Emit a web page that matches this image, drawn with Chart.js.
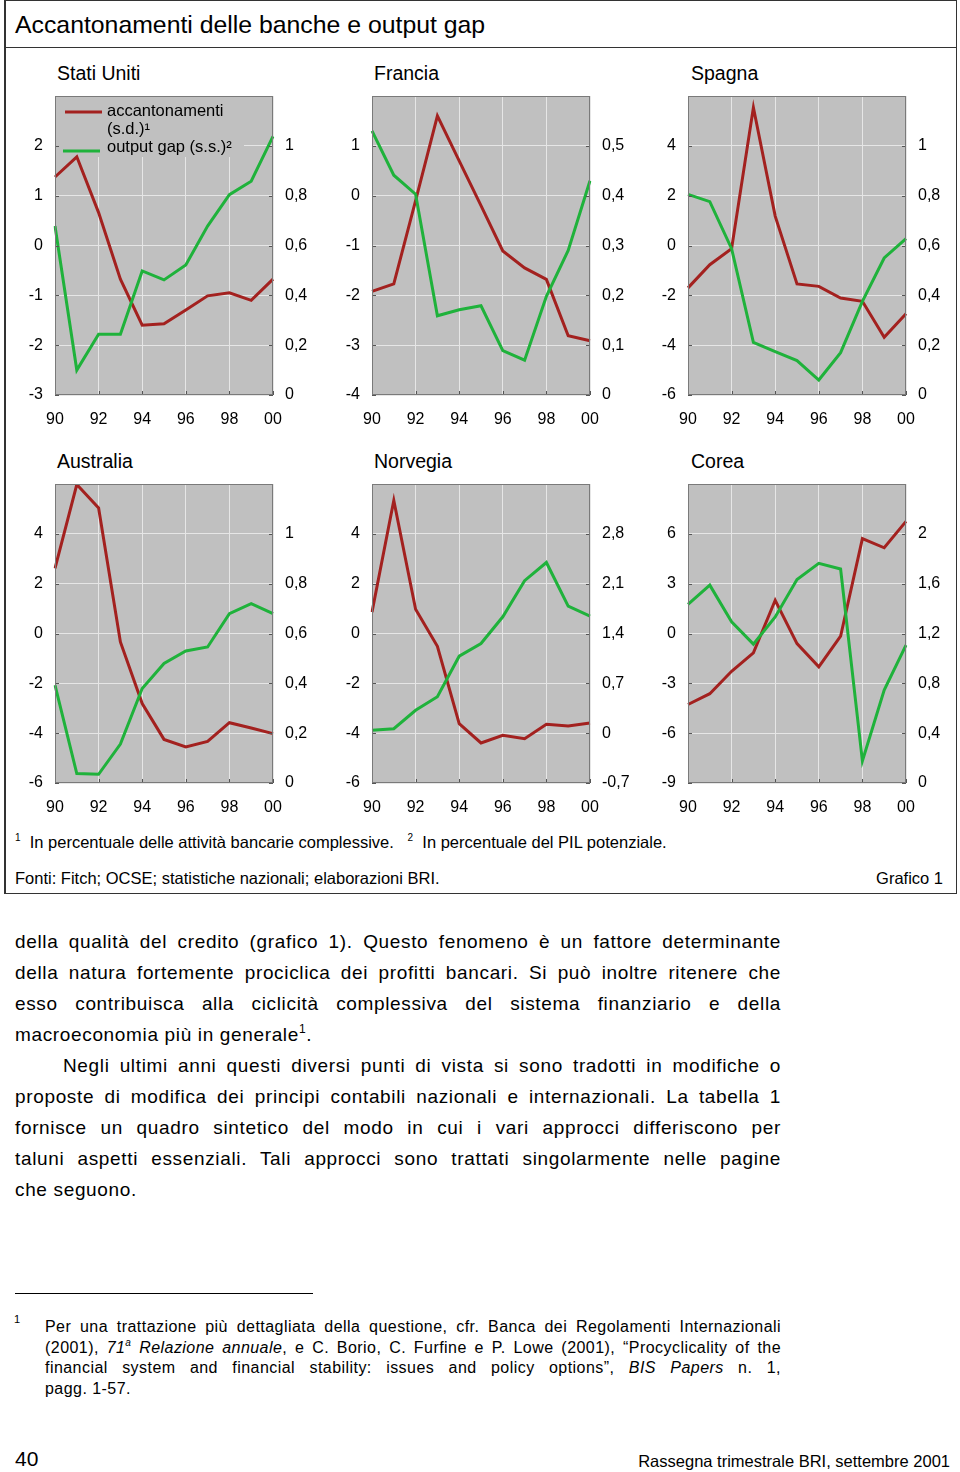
<!DOCTYPE html>
<html>
<head>
<meta charset="utf-8">
<script src="https://cdn.jsdelivr.net/npm/chart.js@4.4.1/dist/chart.umd.min.js"></script>
<style>
body{margin:0;width:960px;height:1472px;position:relative;overflow:hidden;background:#fff;color:#000;font-family:"Liberation Sans",Arial,sans-serif}
.box{position:absolute;left:4px;top:0;width:953px;height:894px;box-sizing:border-box;border:1px solid #333;border-left-width:2px}
.sep{position:absolute;left:4px;top:47px;width:953px;border-top:1px solid #333}
.title{position:absolute;left:15px;top:10px;font-size:24.8px;line-height:30px}
.ptitle{position:absolute;font-size:19.5px;line-height:22px}
canvas{position:absolute}
.note{position:absolute;font-size:16.5px;line-height:18px;white-space:nowrap}
.note sup{font-size:10px;vertical-align:7px;line-height:0}
.body{position:absolute;left:15px;top:926px;width:766px;font-size:19px;line-height:31px;letter-spacing:0.65px}
.ln{text-align:justify;text-align-last:justify}
.lst{text-align:left}
.body sup{font-size:12px;line-height:0;vertical-align:8px}
.rule{position:absolute;left:15px;top:1293px;width:298px;border-top:1px solid #000}
.fn{position:absolute;left:45px;top:1317px;width:736px;font-size:16px;line-height:20.5px;letter-spacing:0.45px}
.fn sup{font-size:10px;line-height:0;vertical-align:7px}
.fnnum{position:absolute;left:14px;top:1313px;font-size:11px}
.foot{position:absolute;white-space:nowrap}
</style>
</head>
<body>
<div class="box"></div>
<div class="sep"></div>
<div class="title">Accantonamenti delle banche e output gap</div>

<div class="ptitle" style="left:57px;top:62px">Stati Uniti</div>
<div class="ptitle" style="left:374px;top:62px">Francia</div>
<div class="ptitle" style="left:691px;top:62px">Spagna</div>
<div class="ptitle" style="left:57px;top:450px">Australia</div>
<div class="ptitle" style="left:374px;top:450px">Norvegia</div>
<div class="ptitle" style="left:691px;top:450px">Corea</div>

<canvas id="usa" width="313" height="336" style="left:10px;top:94px"></canvas>
<canvas id="fra" width="313" height="336" style="left:327px;top:94px"></canvas>
<canvas id="esp" width="313" height="336" style="left:643px;top:94px"></canvas>
<canvas id="aus" width="313" height="336" style="left:10px;top:482px"></canvas>
<canvas id="nor" width="313" height="336" style="left:327px;top:482px"></canvas>
<canvas id="kor" width="313" height="336" style="left:643px;top:482px"></canvas>

<div class="note" style="left:15px;top:833px"><sup>1</sup>&nbsp; In percentuale delle attività bancarie complessive. &nbsp;&nbsp;<sup>2</sup>&nbsp; In percentuale del PIL potenziale.</div>
<div class="note" style="left:15px;top:869px">Fonti: Fitch; OCSE; statistiche nazionali; elaborazioni BRI.</div>
<div class="note" style="right:17px;top:869px">Grafico 1</div>

<div class="body">
<div class="ln">della qualità del credito (grafico 1). Questo fenomeno è un fattore determinante</div>
<div class="ln">della natura fortemente prociclica dei profitti bancari. Si può inoltre ritenere che</div>
<div class="ln">esso contribuisca alla ciclicità complessiva del sistema finanziario e della</div>
<div class="lst">macroeconomia più in generale<sup>1</sup>.</div>
<div class="ln" style="padding-left:48px">Negli ultimi anni questi diversi punti di vista si sono tradotti in modifiche o</div>
<div class="ln">proposte di modifica dei principi contabili nazionali e internazionali. La tabella 1</div>
<div class="ln">fornisce un quadro sintetico del modo in cui i vari approcci differiscono per</div>
<div class="ln">taluni aspetti essenziali. Tali approcci sono trattati singolarmente nelle pagine</div>
<div class="lst">che seguono.</div>
</div>

<div class="rule"></div>
<div class="fnnum">1</div>
<div class="fn">
<div class="ln">Per una trattazione più dettagliata della questione, cfr. Banca dei Regolamenti Internazionali</div>
<div class="ln">(2001), <i>71<sup>a</sup> Relazione annuale</i>, e C. Borio, C. Furfine e P. Lowe (2001), “Procyclicality of the</div>
<div class="ln">financial system and financial stability: issues and policy options”, <i>BIS Papers</i> n. 1,</div>
<div class="lst">pagg. 1-57.</div>
</div>

<div class="foot" style="left:15px;top:1447px;font-size:21px">40</div>
<div class="foot" style="right:10px;top:1452px;font-size:16.5px">Rassegna trimestrale BRI, settembre 2001</div>

<script>
const years = ['90', '91', '92', '93', '94', '95', '96', '97', '98', '99', '00'];

// output gap (scala sinistra)
const usaGap = [0.39, -2.5, -1.78, -1.78, -0.51, -0.69, -0.39, 0.39, 1.02, 1.29, 2.19];
const fraGap = [1.3, 0.41, 0.03, -2.41, -2.29, -2.21, -3.11, -3.3, -2.02, -1.1, 0.3];
const espGap = [2.05, 1.76, -0.13, -3.89, -4.26, -4.62, -5.4, -4.3, -2.24, -0.5, 0.28];
const ausGap = [-2.07, -5.62, -5.65, -4.44, -2.21, -1.2, -0.7, -0.54, 0.8, 1.2, 0.8];
const norGap = [-3.88, -3.82, -3.08, -2.54, -0.91, -0.4, 0.67, 2.12, 2.85, 1.1, 0.7];
const korGap = [1.75, 2.91, 0.7, -0.64, 1.0, 3.25, 4.22, 3.88, -7.67, -3.41, -0.7];

// accantonamenti (scala destra)
const usaProv = [0.875, 0.956, 0.732, 0.465, 0.28, 0.286, 0.341, 0.398, 0.41, 0.38, 0.465];
const fraProv = [0.208, 0.223, 0.39, 0.56, 0.47, 0.38, 0.289, 0.255, 0.232, 0.119, 0.109];
const espProv = [0.43, 0.523, 0.587, 1.154, 0.718, 0.446, 0.436, 0.389, 0.376, 0.232, 0.326];
const ausProv = [0.861, 1.198, 1.104, 0.566, 0.319, 0.175, 0.145, 0.167, 0.242, 0.221, 0.198];
const norProv = [1.70, 3.27, 1.74, 1.22, 0.134, -0.138, -0.03, -0.077, 0.125, 0.10, 0.143];
const korProv = [0.63, 0.717, 0.897, 1.044, 1.467, 1.119, 0.932, 1.178, 1.962, 1.888, 2.10];

// axis ranges [min, max, step]
const usaLeft = [-3, 3, 1], usaRight = [0, 1.2, 0.2];
const fraLeft = [-4, 2, 1], fraRight = [0, 0.6, 0.1];
const espLeft = [-6, 6, 2], espRight = [0, 1.2, 0.2];
const ausLeft = [-6, 6, 2], ausRight = [0, 1.2, 0.2];
const norLeft = [-6, 6, 2], norRight = [-0.7, 3.5, 0.7];
const korLeft = [-9, 9, 3], korRight = [0, 2.4, 0.4];

const provLegend = ['accantonamenti', '(s.d.)¹'];
const gapLegend = ['output gap (s.s.)²'];

const RED = '#a3211f';
const GREEN = '#1fb23b';
const FONT = '"Liberation Sans", Arial, sans-serif';

function fmt(v, max) {
    if (Math.abs(v - max) < 1e-6) return '';
    if (Math.abs(v - Math.round(v)) < 1e-6) return String(Math.round(v));
    return v.toFixed(1).replace('.', ',');
}

const frame = {
    id: 'frame',
    beforeDraw(chart) {
        const a = chart.chartArea, c = chart.ctx;
        c.save();
        c.fillStyle = '#c0c0c0';
        c.fillRect(a.left, a.top, a.width, a.height);
        c.restore();
    },
    beforeDatasetsDraw(chart, args, opts) {
        if (!opts.legend) return;
        const a = chart.chartArea, c = chart.ctx;
        c.save();
        c.fillStyle = '#c0c0c0';
        c.fillRect(a.left + 1, a.top + 1, 188, 60);
        c.lineWidth = 3;
        c.strokeStyle = RED;
        c.beginPath(); c.moveTo(a.left + 10, a.top + 16); c.lineTo(a.left + 47, a.top + 16); c.stroke();
        c.strokeStyle = GREEN;
        c.beginPath(); c.moveTo(a.left + 8, a.top + 55); c.lineTo(a.left + 45, a.top + 55); c.stroke();
        c.fillStyle = '#000';
        c.font = '16.5px ' + FONT;
        c.textBaseline = 'middle';
        c.fillText(provLegend[0], a.left + 52, a.top + 15);
        c.fillText(provLegend[1], a.left + 52, a.top + 33);
        c.fillText(gapLegend[0], a.left + 52, a.top + 51);
        c.restore();
    },
    afterDatasetsDraw(chart) {
        const a = chart.chartArea, c = chart.ctx;
        c.save();
        c.strokeStyle = '#555';
        c.lineWidth = 1;
        const yl = chart.scales.y, yr = chart.scales.y1, x = chart.scales.x;
        c.beginPath();
        yl.ticks.forEach((t, i) => {
            const p = Math.round(yl.getPixelForTick(i)) + 0.5;
            c.moveTo(a.left, p); c.lineTo(a.left + 4, p);
        });
        yr.ticks.forEach((t, i) => {
            const p = Math.round(yr.getPixelForTick(i)) + 0.5;
            c.moveTo(a.right - 4, p); c.lineTo(a.right, p);
        });
        x.ticks.forEach((t, i) => {
            if (i % 2) return;
            const p = Math.round(x.getPixelForTick(i)) + 0.5;
            c.moveTo(p, a.bottom - 4); c.lineTo(p, a.bottom);
        });
        c.stroke();
        c.strokeStyle = '#7a7a7a';
        c.strokeRect(Math.round(a.left) + 0.5, Math.round(a.top) + 0.5, Math.round(a.width) - 1, Math.round(a.height) - 1);
        c.restore();
    }
};

function makePanel(id, gap, prov, left, right, legend) {
    new Chart(document.getElementById(id), {
        type: 'line',
        data: {
            labels: years,
            datasets: [
                { label: 'output gap', data: gap, yAxisID: 'y', borderColor: GREEN, borderWidth: 3, pointRadius: 0, tension: 0 },
                { label: 'accantonamenti', data: prov, yAxisID: 'y1', borderColor: RED, borderWidth: 3, pointRadius: 0, tension: 0 }
            ]
        },
        options: {
            responsive: false,
            animation: false,
            layout: { padding: { top: 2, left: 0, right: 0, bottom: 0 } },
            plugins: { legend: { display: false }, tooltip: { enabled: false }, frame: { legend } },
            scales: {
                x: {
                    offset: false,
                    border: { display: false },
                    grid: {
                        drawTicks: false,
                        lineWidth: 1,
                        color: ctx => (ctx.index % 2 === 0 ? '#e6e6e6' : 'rgba(0,0,0,0)')
                    },
                    ticks: {
                        autoSkip: false, maxRotation: 0, padding: 15, color: '#000',
                        font: { size: 16, family: FONT },
                        callback: (v, i) => (i % 2 === 0 ? years[i] : '')
                    },
                    afterFit: s => { s.height = 35; s.paddingLeft = 0; s.paddingRight = 0; }
                },
                y: {
                    position: 'left',
                    min: left[0], max: left[1],
                    border: { display: false },
                    grid: { drawTicks: false, color: '#e6e6e6', lineWidth: 1 },
                    ticks: {
                        stepSize: left[2], padding: 12, color: '#000',
                        font: { size: 16, family: FONT },
                        callback: v => fmt(v, left[1])
                    },
                    afterFit: s => { s.width = 45; s.paddingTop = 0; s.paddingBottom = 0; }
                },
                y1: {
                    position: 'right',
                    min: right[0], max: right[1],
                    border: { display: false },
                    grid: { drawOnChartArea: false, drawTicks: false },
                    ticks: {
                        stepSize: right[2], padding: 12, color: '#000',
                        font: { size: 16, family: FONT },
                        callback: v => fmt(v, right[1])
                    },
                    afterFit: s => { s.width = 50; s.paddingTop = 0; s.paddingBottom = 0; }
                }
            }
        },
        plugins: [frame]
    });
}

makePanel('usa', usaGap, usaProv, usaLeft, usaRight, true);
makePanel('fra', fraGap, fraProv, fraLeft, fraRight, false);
makePanel('esp', espGap, espProv, espLeft, espRight, false);
makePanel('aus', ausGap, ausProv, ausLeft, ausRight, false);
makePanel('nor', norGap, norProv, norLeft, norRight, false);
makePanel('kor', korGap, korProv, korLeft, korRight, false);
</script>
</body>
</html>
